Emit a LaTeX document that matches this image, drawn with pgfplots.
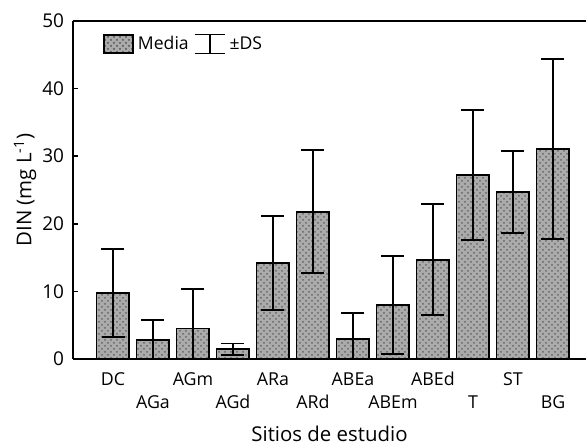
\documentclass[border=0pt]{standalone}
\usepackage{fontspec}
\setmainfont{Open Sans}
\usepackage{pgfplots}
\pgfplotsset{compat=1.18}
\usepackage{pgfplotstable}
\usetikzlibrary{patterns}

\pgfplotstableread{
x y e
0 9.75 6.55
1 2.8 3.0
2 4.5 5.9
3 1.45 0.85
4 14.2 7.0
5 21.8 9.1
6 2.9 3.9
7 8.0 7.25
8 14.7 8.2
9 27.2 9.65
10 24.7 6.05
11 31.1 13.3
}\datatab

\begin{document}
\fontsize{8.4}{10}\selectfont
\begin{tikzpicture}
\begin{axis}[
  name=ax,
  scale only axis, width=256.5pt, height=169pt,
  xmin=-1, xmax=11.825, ymin=0, ymax=50,
  axis x line=box, axis y line*=left,
  axis line style={line width=1pt, -},
  y axis line style={-},
  ytick={0,10,20,30,40,50},
  tick align=inside, major tick length=2.5pt,
  tick style={line width=0.8pt, black},
  xtick pos=left, ytick pos=left,
  xtick={0,2,4,6,8,10}, xticklabels={DC,AGm,ARa,ABEa,ABEd,ST},
  extra x ticks={1,3,5,7,9,11},
  extra x tick labels={AGa,AGd,ARd,ABEm,T,BG},
  extra x tick style={xticklabel style={yshift=-11.65pt}},
  xticklabel style={anchor=base, yshift=-13.35pt, font=\fontsize{8.9}{10}\selectfont},
  yticklabel style={xshift=-1.5pt, font=\fontsize{9.5}{11}\selectfont},
  /pgf/number format/assume math mode=true,
  xlabel={Sitios de estudio},
  xlabel style={at={(axis description cs:0.5,0)}, anchor=base, yshift=-41.2pt, font=\fontsize{10.2}{12}\selectfont},
  ylabel={DIN (mg L\textsuperscript{-1})},
  ylabel style={at={(axis description cs:-0.0811,0.5)}, anchor=base, font=\fontsize{10.2}{12}\selectfont},
  legend style={draw=none, fill=none, at={(axis description cs:0.058,0.932)}, anchor=west,
    inner sep=0pt, legend columns=2, /tikz/every even column/.append style={column sep=0.5pt},
    font=\fontsize{8.8}{10}\selectfont},
  clip=true,
]
\addplot[ybar, bar width=0.82, bar shift=0pt, draw=black, line width=0.9pt,
  fill=black!33, postaction={pattern=crosshatch dots, pattern color=black!60},
  legend image code/.code={\draw[draw=black, line width=0.9pt, fill=black!33,
    postaction={pattern=crosshatch dots, pattern color=black!60}] (0pt,-4.5pt) rectangle (14.5pt,4.5pt);},
  error bars/.cd, y dir=both, y explicit,
  error bar style={line width=0.9pt, black, solid},
  error mark options={rotate=90, mark size=5.75pt, line width=0.9pt, black}]
  table[x=x, y=y, y error=e]{\datatab};
\addlegendentry{Media}
\addlegendimage{legend image code/.code={\draw[line width=0.9pt] (0pt,-4.75pt)--(15pt,-4.75pt) (7.5pt,-4.75pt)--(7.5pt,4.75pt) (0pt,4.75pt)--(15pt,4.75pt);}}
\addlegendentry{±DS}
\end{axis}
\pgfresetboundingbox
\path ([shift={(-36.5pt,-43pt)}]ax.south west) rectangle ([shift={(0pt,10.5pt)}]ax.north east);
\end{tikzpicture}
\end{document}
